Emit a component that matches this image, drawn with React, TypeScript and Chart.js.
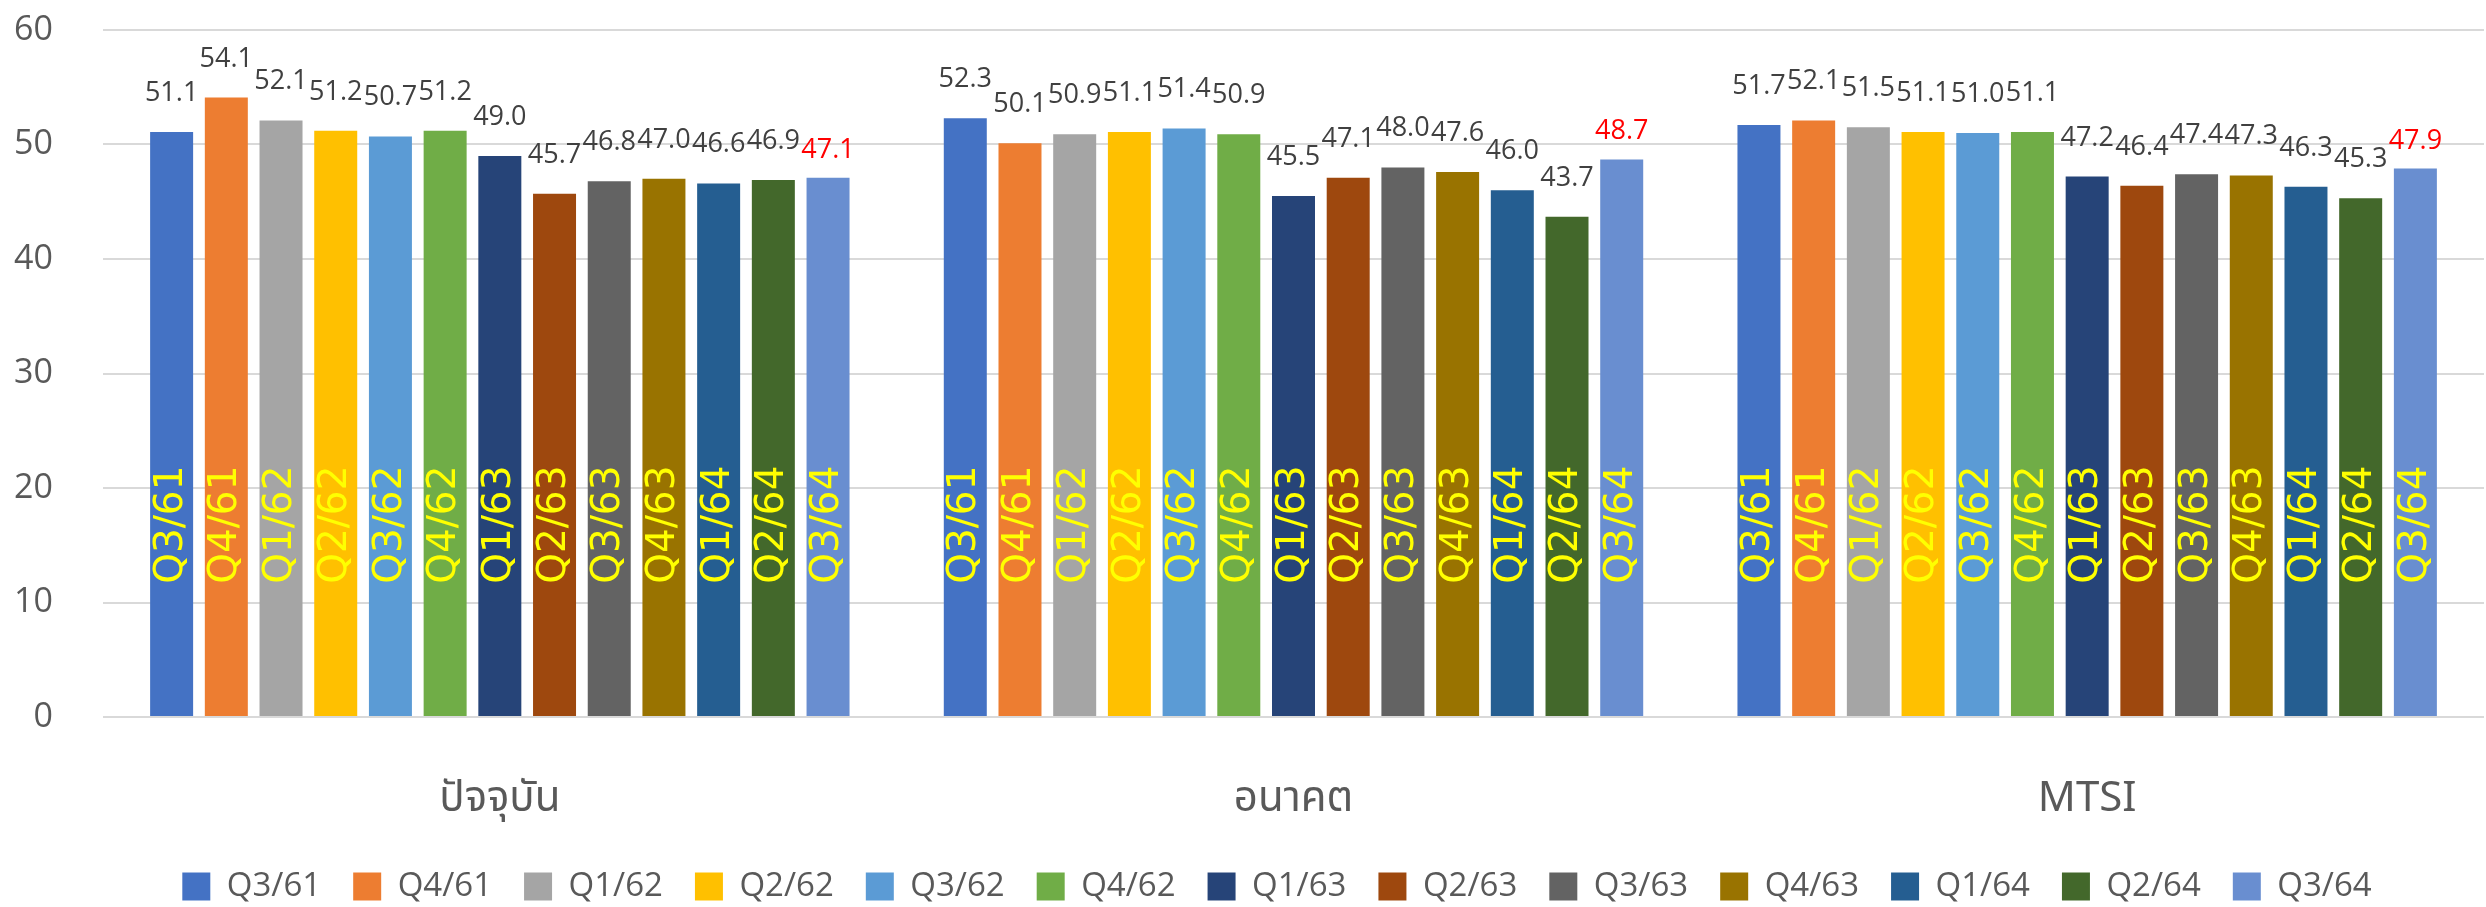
import React, { useEffect, useRef } from 'react';
import { Chart, registerables } from 'chart.js';

Chart.register(...registerables);

const categories = ['ปัจจุบัน', 'อนาคต', 'MTSI'];
const quarters = ['Q3/61', 'Q4/61', 'Q1/62', 'Q2/62', 'Q3/62', 'Q4/62', 'Q1/63', 'Q2/63', 'Q3/63', 'Q4/63', 'Q1/64', 'Q2/64', 'Q3/64'];

const q3_61 = [51.1, 52.3, 51.7];
const q4_61 = [54.1, 50.1, 52.1];
const q1_62 = [52.1, 50.9, 51.5];
const q2_62 = [51.2, 51.1, 51.1];
const q3_62 = [50.7, 51.4, 51.0];
const q4_62 = [51.2, 50.9, 51.1];
const q1_63 = [49.0, 45.5, 47.2];
const q2_63 = [45.7, 47.1, 46.4];
const q3_63 = [46.8, 48.0, 47.4];
const q4_63 = [47.0, 47.6, 47.3];
const q1_64 = [46.6, 46.0, 46.3];
const q2_64 = [46.9, 43.7, 45.3];
const q3_64 = [47.1, 48.7, 47.9];

const seriesValues = [q3_61, q4_61, q1_62, q2_62, q3_62, q4_62, q1_63, q2_63, q3_63, q4_63, q1_64, q2_64, q3_64];

const seriesColors = ['#4472C4', '#ED7D31', '#A5A5A5', '#FFC000', '#5B9BD5', '#70AD47', '#264478', '#9E480E', '#636363', '#997300', '#255E91', '#43682B', '#698ED0'];

const yTicks = [0, 10, 20, 30, 40, 50, 60];

const THAI_FONT = '"Noto Sans Thai", "Noto Sans Thai UI", "Leelawadee UI", "Open Sans", "Noto Sans", sans-serif';

const labelPlugin = {
  id: 'barLabels',
  afterLayout(chart: any) {
    if (chart.legend) {
      chart.legend.left += 35;
      chart.legend.right += 35;
    }
  },
  afterDatasetsDraw(chart: any) {
    const { ctx } = chart;
    const yScale = chart.scales.y;
    const last = chart.data.datasets.length - 1;
    chart.data.datasets.forEach((ds: any, i: number) => {
      const meta = chart.getDatasetMeta(i);
      if (meta.hidden) return;
      meta.data.forEach((bar: any, j: number) => {
        const v = ds.data[j];
        ctx.save();
        ctx.font = '27px "Open Sans"';
        ctx.fillStyle = i === last ? '#FF0000' : '#404040';
        ctx.textAlign = 'center';
        ctx.textBaseline = 'alphabetic';
        ctx.fillText(Number(v).toFixed(1), bar.x, bar.y - (i === last ? 20 : 31));
        ctx.translate(bar.x, yScale.getPixelForValue(16.8));
        ctx.rotate(-Math.PI / 2);
        ctx.font = '39px "DejaVu Sans"';
        ctx.fillStyle = '#FFFF00';
        ctx.textAlign = 'center';
        ctx.textBaseline = 'middle';
        ctx.fillText(ds.label, 0, 0);
        ctx.restore();
      });
    });
  },
};

export default function App() {
  const canvasRef = useRef<HTMLCanvasElement | null>(null);

  useEffect(() => {
    if (!canvasRef.current) return;
    const chart = new Chart(canvasRef.current, {
      type: 'bar',
      data: {
        labels: categories,
        datasets: quarters.map((q, i) => ({
          label: q,
          data: seriesValues[i],
          backgroundColor: seriesColors[i],
          borderWidth: 0,
          categoryPercentage: 0.896,
          barPercentage: 0.786,
        })),
      },
      options: {
        animation: false,
        responsive: true,
        maintainAspectRatio: false,
        layout: { padding: { top: 30, right: 2, left: 0, bottom: 0 } },
        plugins: {
          legend: {
            position: 'bottom',
            labels: {
              font: { family: '"Open Sans"', size: 33 },
              color: '#595959',
              boxWidth: 28,
              boxHeight: 28,
              padding: 32,
            },
          },
          tooltip: { enabled: false },
        },
        scales: {
          x: {
            grid: { display: false },
            border: { display: false },
            ticks: { font: { family: THAI_FONT, size: 42 }, color: '#595959', padding: 52 },
            afterFit: (s: any) => { s.height = 121; },
          },
          y: {
            min: 0,
            max: 60,
            afterBuildTicks: (s: any) => { s.ticks = yTicks.map((v) => ({ value: v })); },
            ticks: { font: { family: '"Open Sans"', size: 34 }, color: '#595959', padding: 50 },
            grid: { color: '#D9D9D9', lineWidth: 2, drawTicks: false },
            border: { display: false },
            afterFit: (s: any) => {
              s.width = 103;
              s.paddingTop = 0;
              s.paddingBottom = 0;
            },
          },
        },
      },
      plugins: [labelPlugin],
    });
    return () => chart.destroy();
  }, []);

  return (
    <div style={{ position: 'fixed', left: 0, top: 0, width: '2486px', height: '913px', background: '#FFFFFF' }}>
      <canvas ref={canvasRef} />
    </div>
  );
}
